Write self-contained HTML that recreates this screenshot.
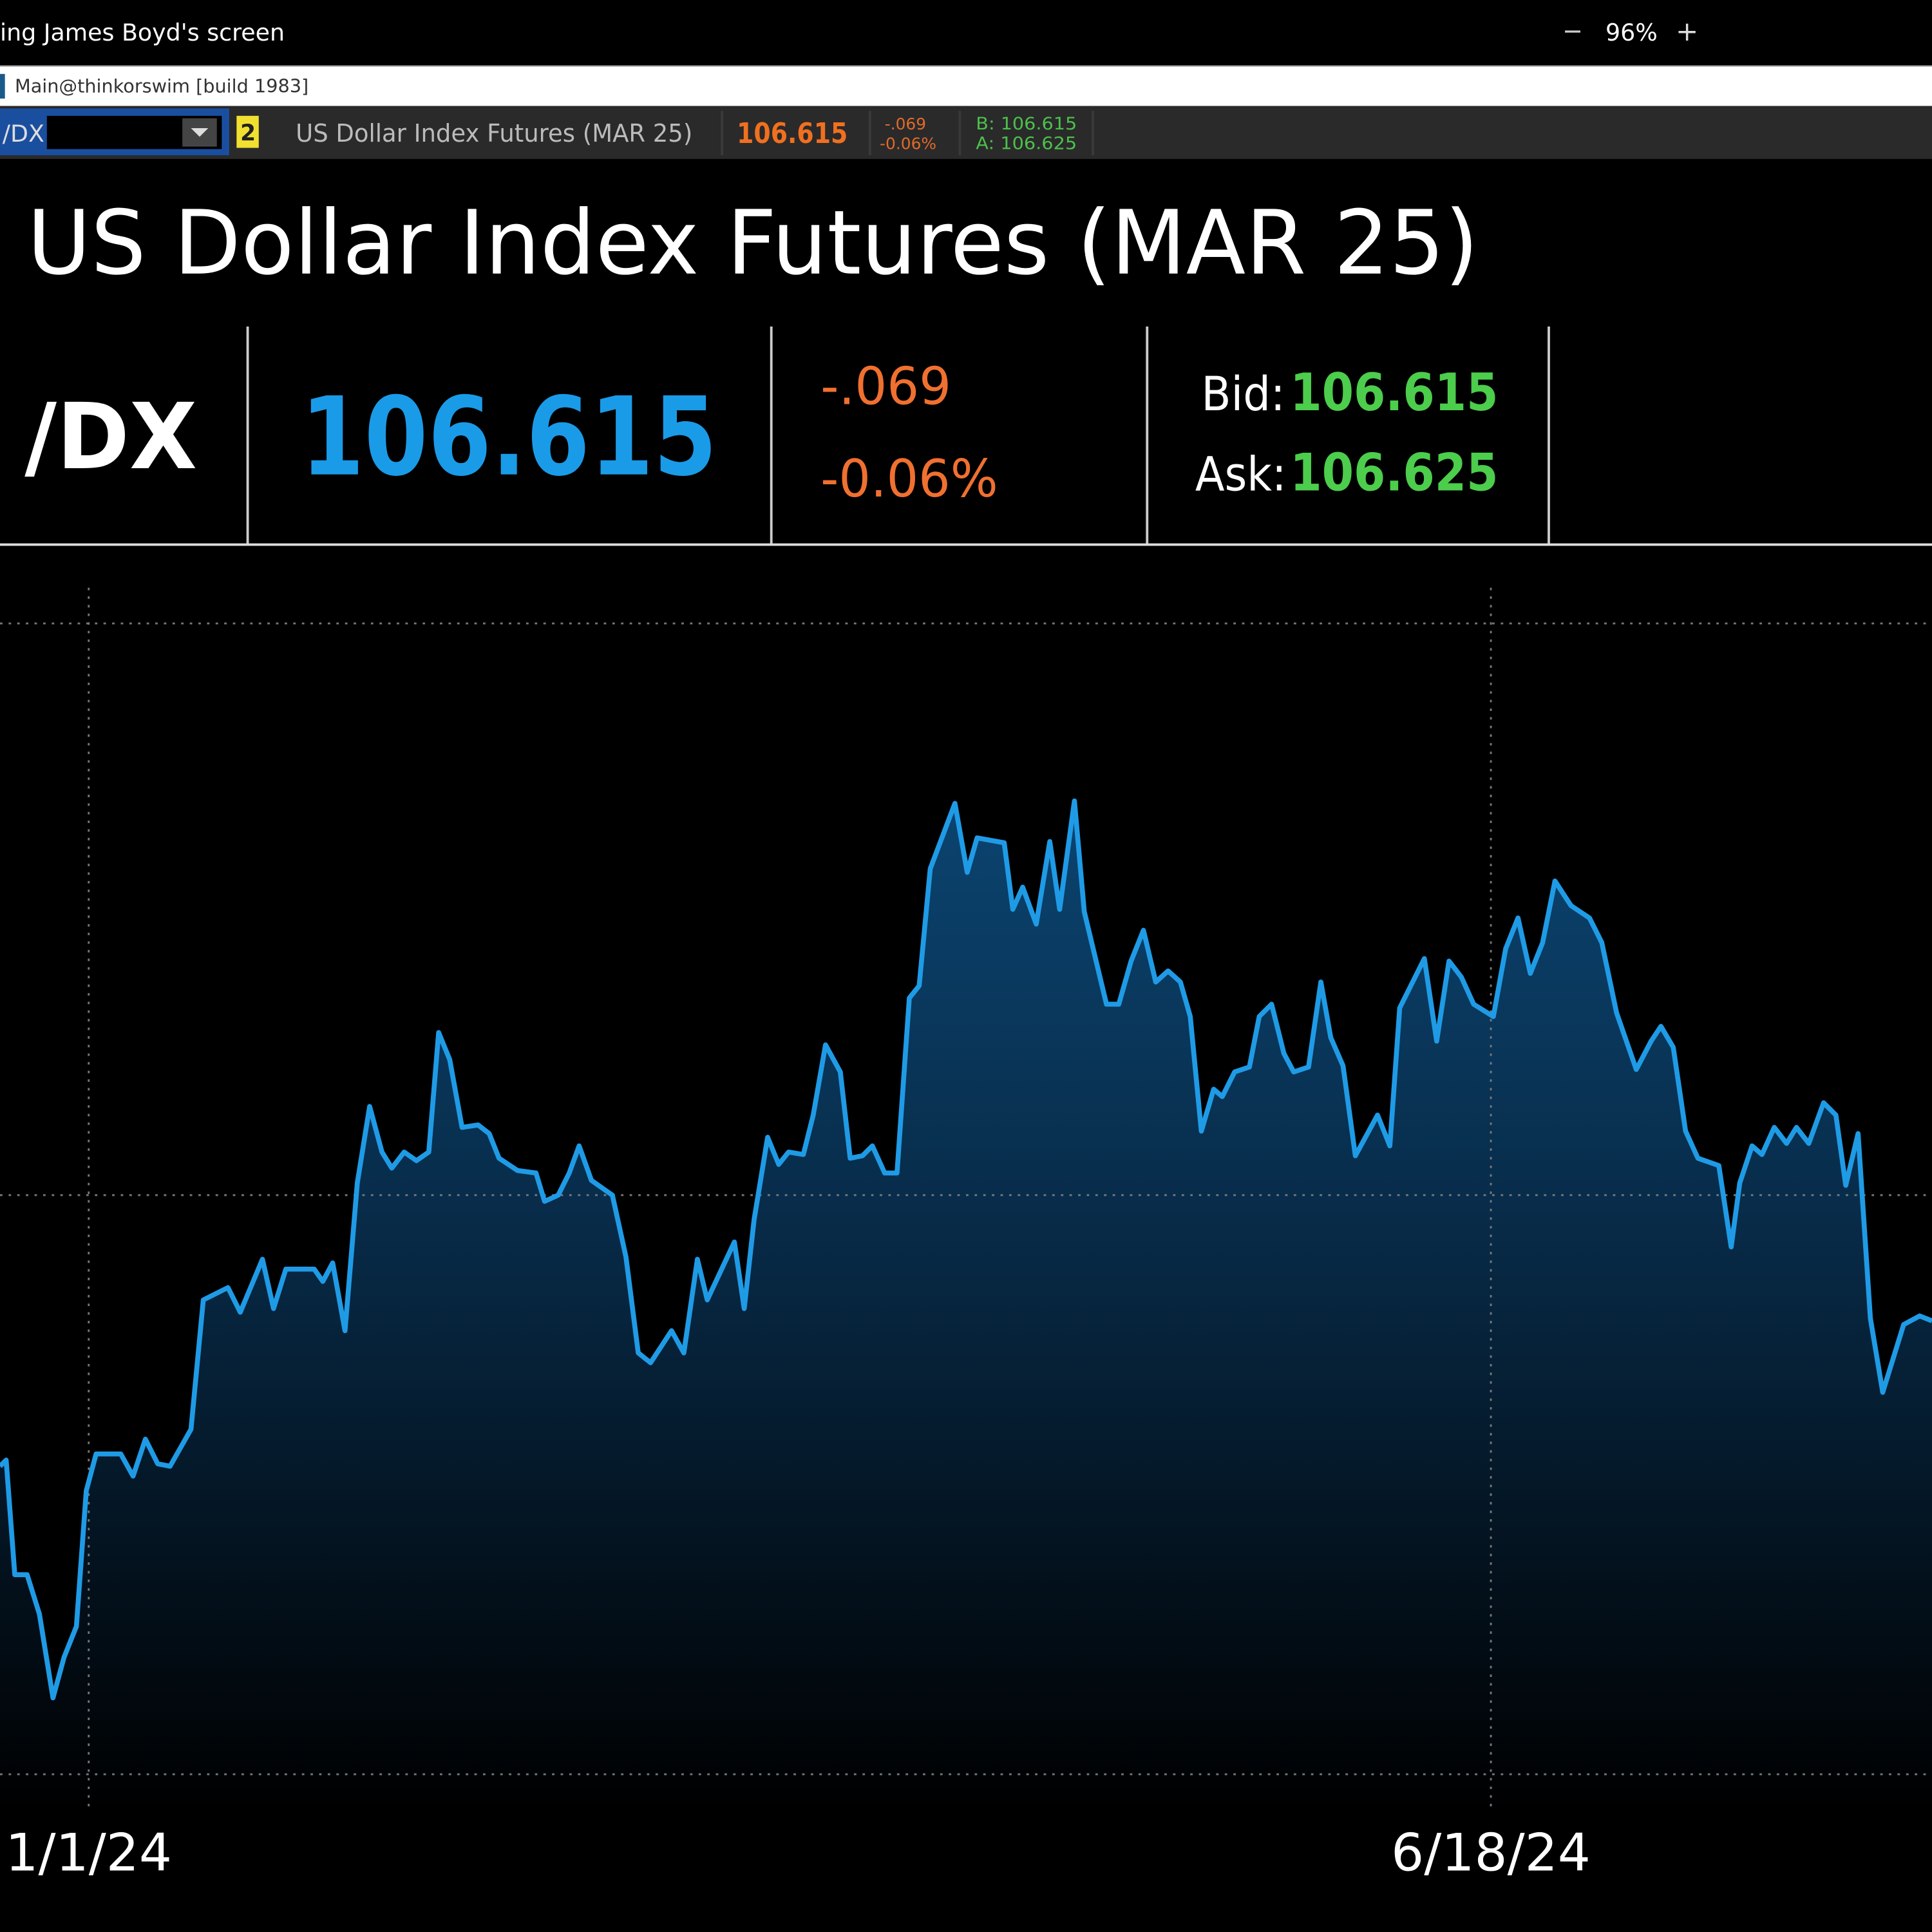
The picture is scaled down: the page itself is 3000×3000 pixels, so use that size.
<!DOCTYPE html>
<html><head><meta charset="utf-8"><style>
html,body{margin:0;padding:0;background:#000;width:3000px;height:3000px;overflow:hidden}
svg{display:block}
text{font-family:"DejaVu Sans","Liberation Sans",sans-serif}
</style></head><body>
<svg width="3000" height="3000" viewBox="0 0 1568 1568" xmlns="http://www.w3.org/2000/svg">
<defs>
<linearGradient id="g" x1="0" y1="650" x2="0" y2="1470" gradientUnits="userSpaceOnUse">
<stop offset="0" stop-color="#0b4470"/>
<stop offset="0.4" stop-color="#082c4a"/>
<stop offset="1" stop-color="#000"/>
</linearGradient>
</defs>
<rect width="1568" height="1568" fill="#000"/>
<text x="0" y="33" fill="#fff" font-size="19" font-family="Liberation Sans">ing James Boyd's screen</text>
<text x="1268" y="32" fill="#ccc" font-size="20">−</text>
<text x="1303" y="33" fill="#fff" font-size="19" font-family="Liberation Sans">96%</text>
<text x="1360" y="33" fill="#ddd" font-size="22">+</text>
<rect x="0" y="53" width="1568" height="33" fill="#fff"/>
<rect x="0" y="53" width="1568" height="1" fill="#888"/>
<rect x="0" y="60" width="4" height="20" fill="#1a5a8a"/>
<text x="12" y="75" fill="#333" font-size="15" font-family="Liberation Sans">Main@thinkorswim [build 1983]</text>
<rect x="0" y="86" width="1568" height="43" fill="#2a2a2a"/>
<rect x="0" y="88" width="186" height="38" fill="#1a4fa0"/>
<rect x="38" y="94" width="142" height="27" fill="#000"/>
<rect x="0" y="95" width="38" height="25" fill="#1a4fa0"/>
<text x="2" y="115" fill="#ddd" font-size="19">/DX</text>
<rect x="148" y="96" width="28" height="23" fill="#444"/>
<path d="M155 104 L169 104 L162 111 Z" fill="#ddd"/>
<rect x="192" y="94" width="18" height="26" fill="#f2e030"/>
<text x="195" y="114" fill="#222" font-size="18" font-weight="bold">2</text>
<text x="240" y="115" fill="#bbb" font-size="20" textLength="322" lengthAdjust="spacingAndGlyphs">US Dollar Index Futures (MAR 25)</text>
<rect x="585" y="90" width="2" height="36" fill="#3a3a3a"/>
<rect x="705" y="90" width="2" height="36" fill="#3a3a3a"/>
<rect x="778" y="90" width="2" height="36" fill="#3a3a3a"/>
<rect x="886" y="90" width="2" height="36" fill="#3a3a3a"/>
<text x="598" y="116" fill="#f07020" font-size="23" font-weight="bold" textLength="90" lengthAdjust="spacingAndGlyphs">106.615</text>
<text x="718" y="105" fill="#e06a2a" font-size="13">-.069</text>
<text x="714" y="121" fill="#e06a2a" font-size="13">-0.06%</text>
<text x="792" y="105" fill="#4cc04c" font-size="14" textLength="82" lengthAdjust="spacingAndGlyphs">B: 106.615</text>
<text x="792" y="121" fill="#4cc04c" font-size="14" textLength="82" lengthAdjust="spacingAndGlyphs">A: 106.625</text>
<text x="22" y="222" fill="#fff" font-size="72" textLength="1178" lengthAdjust="spacingAndGlyphs">US Dollar Index Futures (MAR 25)</text>
<g fill="#ccc"><rect x="200" y="265" width="2" height="177"/><rect x="625" y="265" width="2" height="177"/><rect x="930" y="265" width="2" height="177"/><rect x="1256" y="265" width="2" height="177"/></g>
<rect x="0" y="441" width="1568" height="2" fill="#ddd"/>
<text x="20" y="380" fill="#fff" font-size="74" font-weight="bold" textLength="140" lengthAdjust="spacingAndGlyphs">/DX</text>
<text x="244" y="385" fill="#1a9be8" font-size="88" font-weight="bold" textLength="338" lengthAdjust="spacingAndGlyphs">106.615</text>
<text x="666" y="328" fill="#f07030" font-size="42" textLength="106" lengthAdjust="spacingAndGlyphs">-.069</text>
<text x="666" y="403" fill="#f07030" font-size="42" textLength="144" lengthAdjust="spacingAndGlyphs">-0.06%</text>
<text x="975" y="333" fill="#fff" font-size="38" textLength="68" lengthAdjust="spacingAndGlyphs">Bid:</text>
<text x="1047" y="333" fill="#4ccd4c" font-size="42" font-weight="bold" textLength="169" lengthAdjust="spacingAndGlyphs">106.615</text>
<text x="970" y="398" fill="#fff" font-size="38" textLength="74" lengthAdjust="spacingAndGlyphs">Ask:</text>
<text x="1047" y="398" fill="#4ccd4c" font-size="42" font-weight="bold" textLength="169" lengthAdjust="spacingAndGlyphs">106.625</text>
<path id="p" fill="url(#g)" d="M0,1190 L5,1185 L12,1278 L22,1278 L32,1310 L43,1378 L52,1345 L62,1320 L70,1210 L78,1180 L98,1180 L108,1198 L118,1168 L128,1188 L138,1190 L155,1160 L165,1055 L185,1045 L195,1065 L213,1022 L222,1062 L232,1030 L255,1030 L262,1040 L270,1025 L280,1080 L290,960 L300,898 L310,935 L318,948 L328,935 L338,942 L348,935 L356,838 L365,860 L375,915 L388,913 L397,920 L405,940 L420,950 L435,952 L442,975 L453,970 L462,952 L470,930 L480,958 L497,970 L508,1020 L518,1098 L528,1106 L545,1080 L555,1098 L566,1022 L574,1055 L596,1008 L604,1062 L612,990 L623,923 L632,945 L640,935 L652,937 L660,905 L670,848 L682,870 L690,940 L700,938 L708,930 L718,952 L728,952 L738,810 L746,800 L755,705 L775,652 L785,708 L793,680 L815,684 L822,738 L830,720 L841,750 L852,683 L860,738 L872,650 L880,740 L898,815 L908,815 L918,780 L928,755 L938,797 L948,788 L958,797 L966,825 L975,918 L985,884 L992,890 L1002,870 L1014,866 L1022,825 L1032,815 L1042,855 L1050,870 L1062,866 L1072,797 L1080,842 L1090,865 L1100,938 L1118,905 L1128,930 L1136,818 L1156,778 L1166,845 L1176,780 L1186,793 L1196,815 L1212,825 L1222,770 L1232,745 L1242,790 L1252,765 L1262,715 L1275,735 L1290,745 L1300,765 L1312,822 L1328,868 L1340,845 L1348,833 L1358,850 L1368,918 L1378,940 L1395,946 L1405,1012 L1412,960 L1422,930 L1430,937 L1440,915 L1450,928 L1458,915 L1468,928 L1480,895 L1490,905 L1498,962 L1508,920 L1518,1070 L1528,1130 L1545,1075 L1558,1068 L1568,1072 L1568,1475 L0,1475 Z"/>
<g stroke="#777" stroke-width="1.5" stroke-dasharray="2,5">
<line x1="0" y1="506" x2="1568" y2="506"/><line x1="0" y1="970" x2="1568" y2="970"/><line x1="0" y1="1440" x2="1568" y2="1440"/>
<line x1="72" y1="477" x2="72" y2="1470"/><line x1="1210" y1="477" x2="1210" y2="1470"/>
</g>
<path fill="none" stroke="#1f9be6" stroke-width="4" stroke-linejoin="round" d="M0,1190 L5,1185 L12,1278 L22,1278 L32,1310 L43,1378 L52,1345 L62,1320 L70,1210 L78,1180 L98,1180 L108,1198 L118,1168 L128,1188 L138,1190 L155,1160 L165,1055 L185,1045 L195,1065 L213,1022 L222,1062 L232,1030 L255,1030 L262,1040 L270,1025 L280,1080 L290,960 L300,898 L310,935 L318,948 L328,935 L338,942 L348,935 L356,838 L365,860 L375,915 L388,913 L397,920 L405,940 L420,950 L435,952 L442,975 L453,970 L462,952 L470,930 L480,958 L497,970 L508,1020 L518,1098 L528,1106 L545,1080 L555,1098 L566,1022 L574,1055 L596,1008 L604,1062 L612,990 L623,923 L632,945 L640,935 L652,937 L660,905 L670,848 L682,870 L690,940 L700,938 L708,930 L718,952 L728,952 L738,810 L746,800 L755,705 L775,652 L785,708 L793,680 L815,684 L822,738 L830,720 L841,750 L852,683 L860,738 L872,650 L880,740 L898,815 L908,815 L918,780 L928,755 L938,797 L948,788 L958,797 L966,825 L975,918 L985,884 L992,890 L1002,870 L1014,866 L1022,825 L1032,815 L1042,855 L1050,870 L1062,866 L1072,797 L1080,842 L1090,865 L1100,938 L1118,905 L1128,930 L1136,818 L1156,778 L1166,845 L1176,780 L1186,793 L1196,815 L1212,825 L1222,770 L1232,745 L1242,790 L1252,765 L1262,715 L1275,735 L1290,745 L1300,765 L1312,822 L1328,868 L1340,845 L1348,833 L1358,850 L1368,918 L1378,940 L1395,946 L1405,1012 L1412,960 L1422,930 L1430,937 L1440,915 L1450,928 L1458,915 L1468,928 L1480,895 L1490,905 L1498,962 L1508,920 L1518,1070 L1528,1130 L1545,1075 L1558,1068 L1568,1072"/>
<text x="72" y="1518" fill="#fff" font-size="42" text-anchor="middle">1/1/24</text>
<text x="1210" y="1518" fill="#fff" font-size="42" text-anchor="middle">6/18/24</text>
</svg>
</body></html>
